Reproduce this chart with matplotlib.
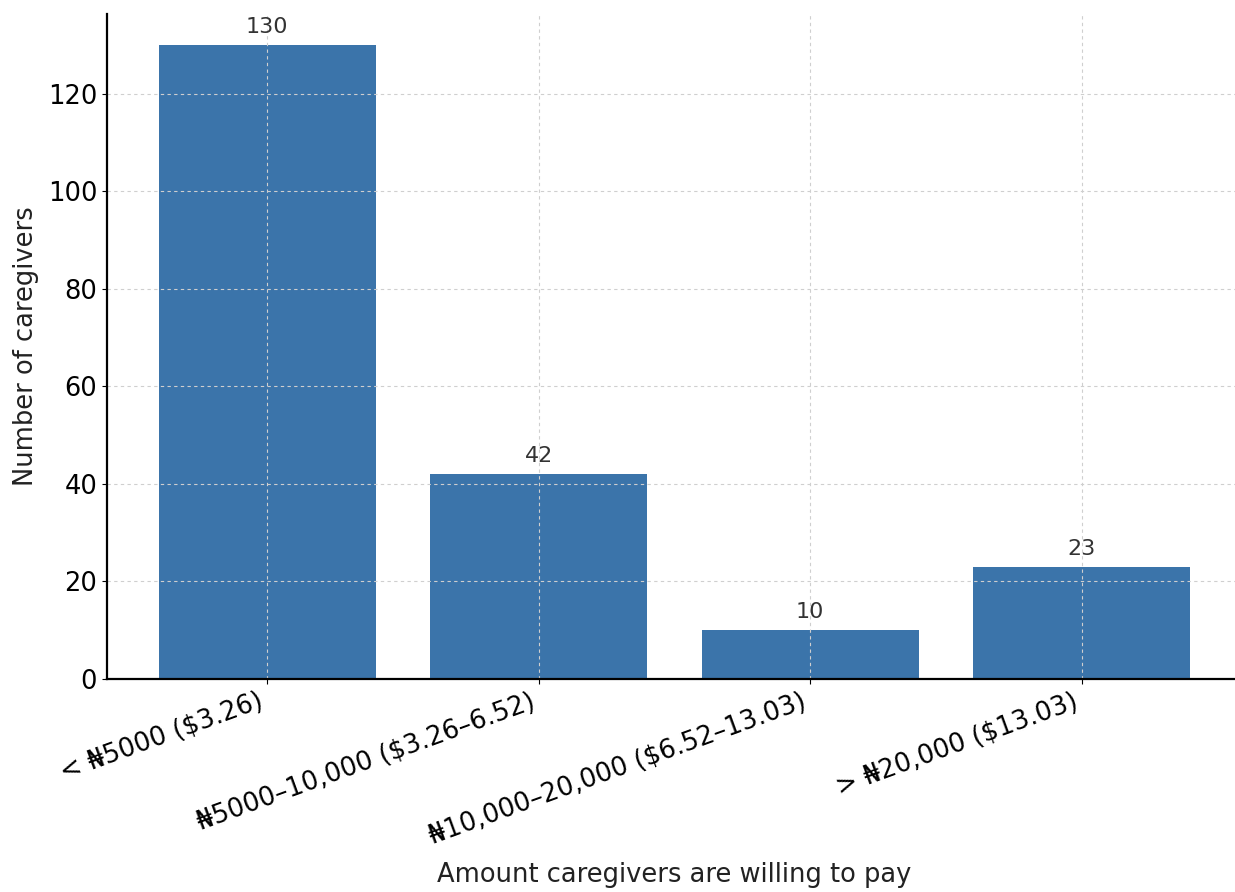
import matplotlib.pyplot as plt

# data
categories = ["< \u20a65000 ($3.26)",
              "\u20a65000\u201310,000 ($3.26\u20136.52)",
              "\u20a610,000\u201320,000 ($6.52\u201313.03)",
              "> \u20a620,000 ($13.03)"]
counts = [130, 42, 10, 23]

bar_color = "#3b74aa"

fig = plt.figure(figsize=(12.35, 8.92), dpi=100)
# the reference is a crop: axes run a little past the right edge
ax = fig.add_axes([0.0866, 0.2388, 0.919, 0.746])

x = range(len(categories))
bars = ax.bar(x, counts, width=0.8, color=bar_color)

for rect, val in zip(bars, counts):
    ax.annotate(str(val), (rect.get_x() + rect.get_width() / 2, rect.get_height()),
                xytext=(0, 6), textcoords="offset points",
                ha="center", va="bottom", fontsize=16, color="#333333")

ax.set_xticks(list(x))
ax.set_xticklabels(categories, rotation=20, ha="right", fontsize=18.5)
ax.tick_params(axis="y", labelsize=18.5)
ax.set_ylim(0, 136.5)

ax.set_xlabel("Amount caregivers are willing to pay", fontsize=18.5, labelpad=9,
              color="#222222")
ax.set_ylabel("Number of caregivers", fontsize=18.5, labelpad=6, color="#222222")

ax.grid(True, linestyle=(0, (3, 3)), color="#cfcfcf", linewidth=0.8)
ax.spines["top"].set_visible(False)
ax.spines["right"].set_visible(False)
ax.spines["left"].set_linewidth(1.6)
ax.spines["bottom"].set_linewidth(1.6)

fig.savefig("out.png", dpi=100)
